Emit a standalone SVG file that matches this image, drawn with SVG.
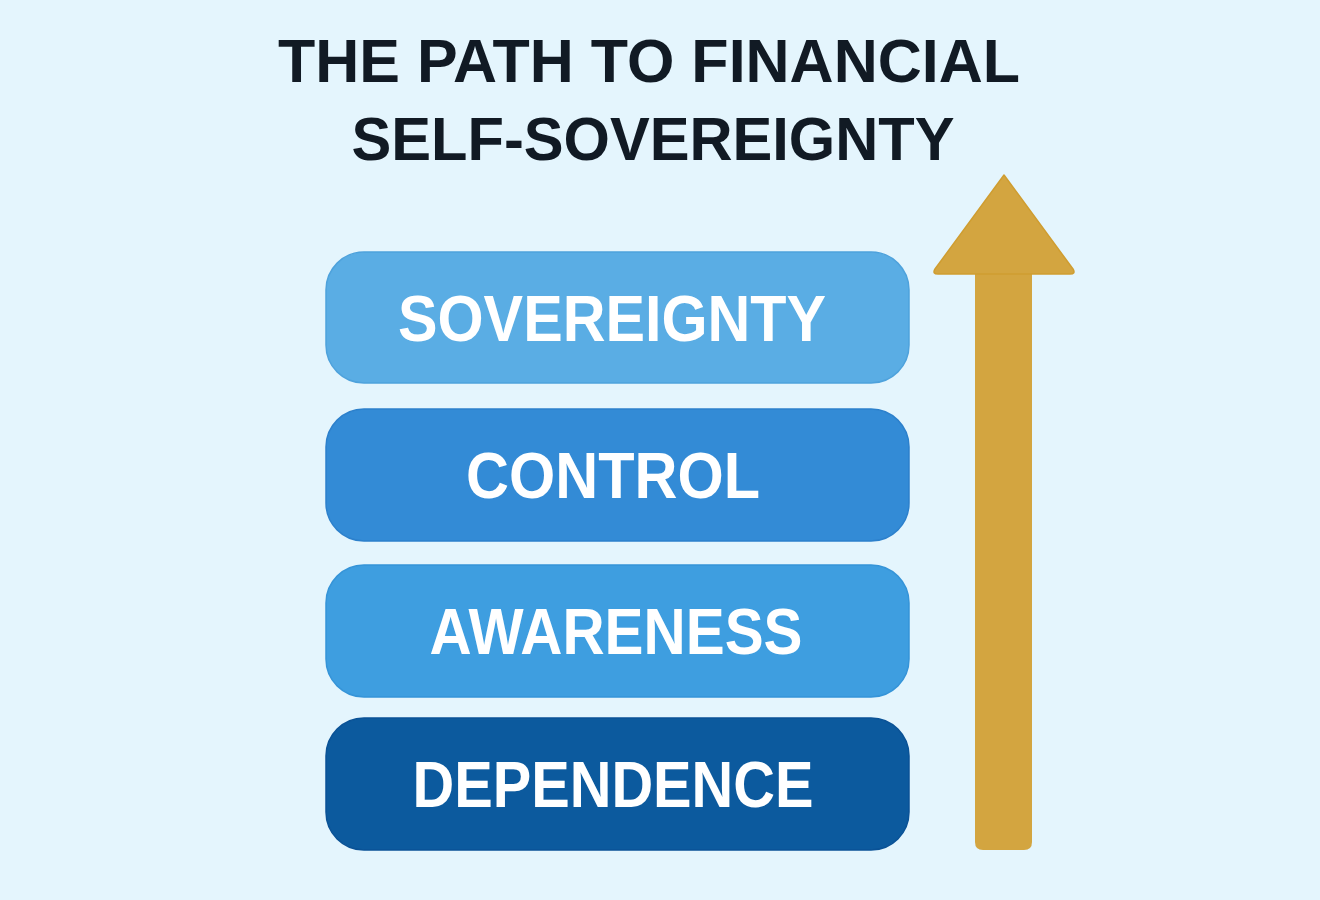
<svg xmlns="http://www.w3.org/2000/svg" width="1320" height="900" viewBox="0 0 1320 900">
<style>
.title{font-family:"Liberation Sans",Arial,sans-serif;font-weight:700;font-size:62px;fill:#111a24;text-anchor:middle}
.lbl{font-family:"Liberation Sans",Arial,sans-serif;font-weight:700;font-size:64px;fill:#ffffff;text-anchor:middle}
.box{stroke-width:1.5}
</style>
<rect x="0" y="0" width="1320" height="900" fill="#e4f5fd"/>
<g id="title">
<text class="title" x="649" y="82" textLength="742" lengthAdjust="spacingAndGlyphs">THE PATH TO FINANCIAL</text>
<text class="title" x="653" y="160" textLength="603" lengthAdjust="spacingAndGlyphs">SELF-SOVEREIGNTY</text>
</g>
<g id="node-sovereignty">
<rect class="box" x="326" y="252" width="583" height="131" rx="38" fill="#5aade4" stroke="#4ea2dc"/>
<text class="lbl" x="612" y="341" textLength="428" lengthAdjust="spacingAndGlyphs">SOVEREIGNTY</text>
</g>
<g id="node-control">
<rect class="box" x="326" y="409" width="583" height="132" rx="38" fill="#338bd6" stroke="#2c80cc"/>
<text class="lbl" x="613" y="498" textLength="294" lengthAdjust="spacingAndGlyphs">CONTROL</text>
</g>
<g id="node-awareness">
<rect class="box" x="326" y="565" width="583" height="132" rx="38" fill="#3e9ee0" stroke="#3594d8"/>
<text class="lbl" x="616" y="654" textLength="373" lengthAdjust="spacingAndGlyphs">AWARENESS</text>
</g>
<g id="node-dependence">
<rect class="box" x="326" y="718" width="583" height="132" rx="38" fill="#0c5a9e" stroke="#0a5296"/>
<text class="lbl" x="613" y="807" textLength="401" lengthAdjust="spacingAndGlyphs">DEPENDENCE</text>
</g>
<g id="connectors">
<path d="M975,273 L975,842 Q975,850 983,850 L1024,850 Q1032,850 1032,842 L1032,273 Z" fill="#d3a540"/>
<path d="M1004,175 L1073,269 Q1076,274 1070,274 L938,274 Q932,274 935,269 Z" fill="#d3a540" stroke="#cf9d30" stroke-width="1.5" stroke-linejoin="round"/>
</g>
</svg>
